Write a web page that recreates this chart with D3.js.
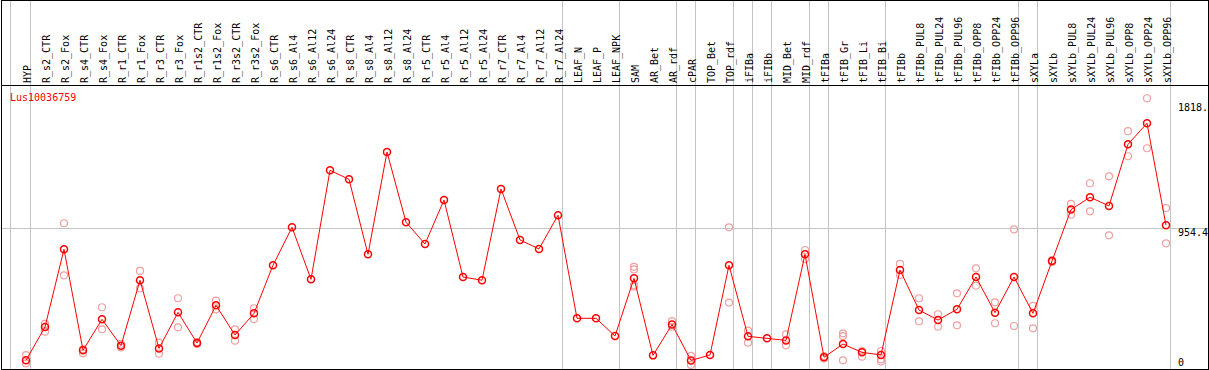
<!DOCTYPE html>
<html>
<head>
<meta charset="utf-8">
<script src="https://cdn.jsdelivr.net/npm/d3@7"></script>
<style>
  body { margin: 0; background: #fff; }
  text { font-family: "DejaVu Sans Mono", monospace; font-size: 10px; }
</style>
</head>
<body>
<div id="chart"></div>
<script>
// chart data
var geneName = "Lus10036759";

var categories = ["HYP", "R_s2_CTR", "R_s2_Fox", "R_s4_CTR", "R_s4_Fox", "R_r1_CTR", "R_r1_Fox",
  "R_r3_CTR", "R_r3_Fox", "R_r1s2_CTR", "R_r1s2_Fox", "R_r3s2_CTR", "R_r3s2_Fox",
  "R_s6_CTR", "R_s6_Al4", "R_s6_Al12", "R_s6_Al24", "R_s8_CTR", "R_s8_Al4", "R_s8_Al12", "R_s8_Al24",
  "R_r5_CTR", "R_r5_Al4", "R_r5_Al12", "R_r5_Al24", "R_r7_CTR", "R_r7_Al4", "R_r7_Al12", "R_r7_Al24",
  "LEAF_N", "LEAF_P", "LEAF_NPK", "SAM", "AR_Bet", "AR_rdf", "cPAR", "TOP_Bet", "TOP_rdf",
  "iFIBa", "iFIBb", "MID_Bet", "MID_rdf", "tFIBa", "tFIB_Gr", "tFIB_Li", "tFIB_Bi",
  "tFIBb", "tFIBb_PUL8", "tFIBb_PUL24", "tFIBb_PUL96", "tFIBb_OPP8", "tFIBb_OPP24", "tFIBb_OPP96",
  "sXYLa", "sXYLb", "sXYLb_PUL8", "sXYLb_PUL24", "sXYLb_PUL96", "sXYLb_OPP8", "sXYLb_OPP24", "sXYLb_OPP96"];

var means = [46, 275, 810, 115, 328, 147, 597, 128, 376, 165, 424, 220, 369,
  700, 961, 603, 1353, 1291, 775, 1479, 996, 846, 1149, 619, 597, 1225, 874, 812, 1044,
  335, 335, 213, 610, 80, 292, 45, 83, 700, 211, 197, 183, 775, 67, 158, 101, 83,
  667, 392, 323, 397, 619, 374, 619, 369, 729, 1083, 1168, 1108, 1532, 1677, 975];

var replicates = [[82, 25], [296, 243], [989, 631], [122, 94], [411, 259], [160, 135], [661, 541],
  [167, 92], [473, 273], [172, 158], [456, 397], [259, 181], [404, 330],
  [], [], [], [], [], [], [], [], [], [], [], [], [], [], [], [],
  [], [], [], [689, 671, 564, 553], [], [316, 277], [76, 14], [], [961, 443],
  [250, 167], [], [225, 149], [805, 743], [75, 58], [232, 213, 46], [110, 71], [110, 53, 37],
  [709, 633], [473, 314], [363, 277], [507, 287], [679, 559], [445, 301], [947, 282],
  [420, 266], [735, 722], [1122, 1048], [1264, 1071], [1312, 906], [1622, 1450], [1849, 1505], [1094, 851]];

// index of the last category in each group (separator lines)
var groupEnds = [0, 28, 31, 34, 35, 37, 38, 39, 41, 42, 45, 52, 53, 60];

var tickValues = [0, 954.4, 1818];
var tickLabels = ["0", "954.4", "1818."];

var W = 1209, H = 370;
var headerH = 85;

var svg = d3.select("#chart").append("svg")
  .attr("width", W)
  .attr("height", H);

var x = d3.scalePoint().domain(categories).range([26, 1166]);
var y = d3.scaleLinear().domain([0, 1940]).range([367, headerH]);

// vertical separators
var sepX = [x(categories[0]) - 15.5].concat(groupEnds.map(function(i) { return x(categories[i]) + 4.5; }));
svg.selectAll(".sep")
  .data(sepX)
  .enter().append("line")
    .attr("class", "sep")
    .attr("x1", function(d) { return Math.floor(d) + 0.5; })
    .attr("x2", function(d) { return Math.floor(d) + 0.5; })
    .attr("y1", 0)
    .attr("y2", H)
    .attr("stroke", "#c4c4c4");

// middle grid line
svg.append("line")
  .attr("x1", 1).attr("x2", 1208)
  .attr("y1", Math.round(y(954.4)) + 0.5).attr("y2", Math.round(y(954.4)) + 0.5)
  .attr("stroke", "#c4c4c4");

// frame + header divider
svg.append("rect")
  .attr("x", 1.5).attr("y", 0.5)
  .attr("width", 1207).attr("height", 369)
  .attr("fill", "none").attr("stroke", "#000");
svg.append("line")
  .attr("x1", 1).attr("x2", 1208)
  .attr("y1", headerH + 0.5).attr("y2", headerH + 0.5)
  .attr("stroke", "#000");

// category labels (rotated)
svg.selectAll(".cat")
  .data(categories)
  .enter().append("text")
    .attr("class", "cat")
    .attr("transform", function(d) { return "translate(" + (x(d) + 1) + "," + 83 + ") rotate(-90)"; })
    .attr("dy", "0.35em")
    .attr("fill", "#000")
    .text(function(d) { return d; });

// value labels on the right
svg.selectAll(".tick")
  .data(tickValues)
  .enter().append("text")
    .attr("class", "tick")
    .attr("x", 1178)
    .attr("y", function(d) { return d === 0 ? y(d) - 1 : y(d) + 8; })
    .attr("fill", "#000")
    .text(function(d, i) { return tickLabels[i]; });

svg.append("text")
  .attr("x", 10).attr("y", 101)
  .attr("fill", "#ff0000")
  .text(geneName);

// replicate points
var reps = [];
replicates.forEach(function(r, i) {
  r.forEach(function(v) { reps.push({ key: categories[i], value: v }); });
});
svg.selectAll(".rep")
  .data(reps)
  .enter().append("circle")
    .attr("class", "rep")
    .attr("cx", function(d) { return x(d.key); })
    .attr("cy", function(d) { return y(d.value); })
    .attr("r", 3.5)
    .attr("fill", "none")
    .attr("stroke", "#f0a0a0")
    .attr("stroke-width", 1.2);

// mean line
var meanData = categories.map(function(c, i) { return { key: c, value: means[i] }; });
var line = d3.line()
  .x(function(d) { return x(d.key); })
  .y(function(d) { return y(d.value); });
svg.append("path")
  .datum(meanData)
  .attr("d", line)
  .attr("fill", "none")
  .attr("stroke", "#ff0000")
  .attr("stroke-width", 1);

svg.selectAll(".mean")
  .data(meanData)
  .enter().append("circle")
    .attr("class", "mean")
    .attr("cx", function(d) { return x(d.key); })
    .attr("cy", function(d) { return y(d.value); })
    .attr("r", 3.5)
    .attr("fill", "none")
    .attr("stroke", "#ff0000")
    .attr("stroke-width", 1.5);
</script>
</body>
</html>
